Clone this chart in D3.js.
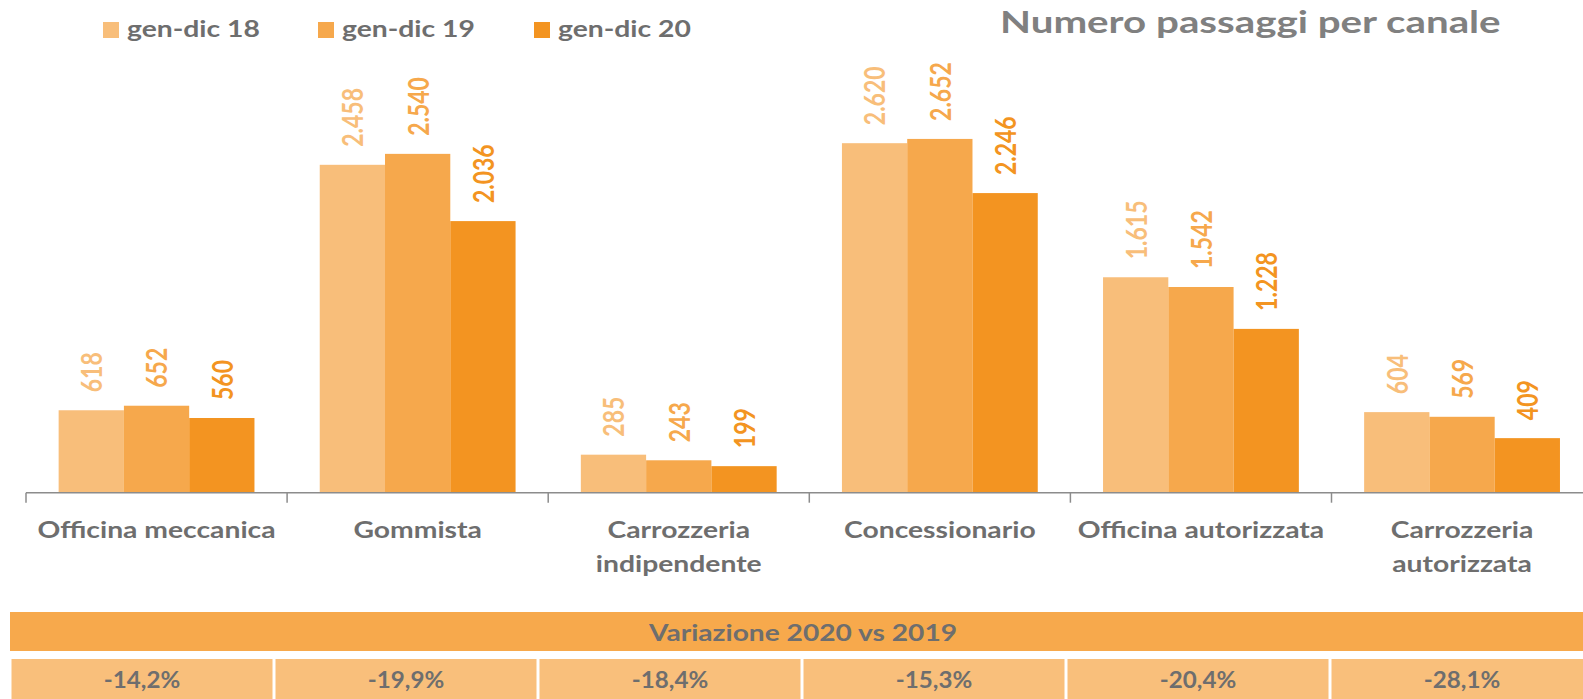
<!DOCTYPE html>
<html>
<head>
<meta charset="utf-8">
<script src="https://cdn.jsdelivr.net/npm/d3@7"></script>
<style>
  html, body { margin: 0; padding: 0; background: #ffffff; }
  svg { display: block; }
  text { font-family: Lato, "Open Sans", sans-serif; }
</style>
</head>
<body>
<svg id="chart" width="1583" height="699"></svg>
<script>
// ---- data ----
const categories = [
  ["Officina meccanica"],
  ["Gommista"],
  ["Carrozzeria", "indipendente"],
  ["Concessionario"],
  ["Officina autorizzata"],
  ["Carrozzeria", "autorizzata"]
];
const seriesNames = ["gen-dic 18", "gen-dic 19", "gen-dic 20"];
const values18 = [618, 2458, 285, 2620, 1615, 604];
const values19 = [652, 2540, 243, 2652, 1542, 569];
const values20 = [560, 2036, 199, 2246, 1228, 409];
const variazioni = ["-14,2%", "-19,9%", "-18,4%", "-15,3%", "-20,4%", "-28,1%"];
const titleText = "Numero passaggi per canale";
const tableHeader = "Variazione 2020 vs 2019";

// ---- styles ----
const colors = ["#F8BE7A", "#F6A84C", "#F39421"];
const labelColors = ["#F8BE7A", "#F6A84C", "#F39421"];
const labelWeights = ["bold", "bold", "bold"];
const grayText = "#6e6e6e";

const svg = d3.select("#chart");
const catKeys = categories.map(c => c.join(" "));
const seriesValues = [values18, values19, values20];

const x0 = d3.scaleBand().domain(catKeys).range([26, 26 + 6 * 261.1]).padding(0);
const x1 = d3.scaleBand().domain(seriesNames).range([0, x0.bandwidth()]).paddingInner(0).paddingOuter(0.5);
const y = d3.scaleLinear().domain([0, 3000]).range([492.7, 492.7 - 0.1334 * 3000]);

const it = d3.formatLocale({decimal: ",", thousands: ".", grouping: [3], currency: ["", "€"]});
const fmt = it.format(",d");

// bars
const groups = svg.append("g").selectAll("g")
  .data(catKeys)
  .join("g")
  .attr("transform", d => `translate(${x0(d)},0)`);

groups.selectAll("rect")
  .data((d, i) => seriesNames.map((s, j) => ({s, j, v: seriesValues[j][i]})))
  .join("rect")
  .attr("x", d => x1(d.s))
  .attr("width", x1.bandwidth())
  .attr("y", d => y(d.v))
  .attr("height", d => y(0) - y(d.v))
  .attr("fill", d => colors[d.j]);

groups.selectAll("text.val")
  .data((d, i) => seriesNames.map((s, j) => ({s, j, v: seriesValues[j][i]})))
  .join("text")
  .attr("class", "val")
  .attr("transform", d => `translate(${x1(d.s) + x1.bandwidth() / 2},${y(d.v) - 18}) scale(1.2,1) rotate(-90)`)
  .attr("text-anchor", "start")
  .attr("dominant-baseline", "central")
  .attr("font-size", 23)
  .attr("font-weight", d => labelWeights[d.j])
  .attr("fill", d => labelColors[d.j])
  .text(d => fmt(d.v));

// axis
const axisG = svg.append("g").attr("transform", `translate(0,${y(0)})`);
axisG.append("line")
  .attr("x1", x0.range()[0]).attr("x2", x0.range()[1])
  .attr("stroke", "#8c8c8c").attr("stroke-width", 1.5);
axisG.selectAll("line.tick")
  .data(catKeys)
  .join("line")
  .attr("class", "tick")
  .attr("x1", d => x0(d)).attr("x2", d => x0(d))
  .attr("y1", 0).attr("y2", 10)
  .attr("stroke", "#8c8c8c").attr("stroke-width", 1.5);

const catText = svg.append("g").selectAll("text")
  .data(categories)
  .join("text")
  .attr("transform", (d, i) => `translate(${x0(catKeys[i]) + x0.bandwidth() / 2},537.5) scale(1.23,1)`)
  .attr("text-anchor", "middle")
  .attr("font-size", 23)
  .attr("font-weight", "bold")
  .attr("fill", grayText);
catText.selectAll("tspan")
  .data(d => d)
  .join("tspan")
  .attr("x", 0)
  .attr("dy", (d, i) => i === 0 ? 0 : 35)
  .text(d => d);

// legend
const legend = svg.append("g");
const legendX = [103, 318, 534];
seriesNames.forEach((s, j) => {
  legend.append("rect")
    .attr("x", legendX[j]).attr("y", 22)
    .attr("width", 16).attr("height", 16)
    .attr("fill", colors[j]);
  legend.append("text")
    .attr("transform", `translate(${legendX[j] + 24},37) scale(1.23,1)`)
    .attr("font-size", 23).attr("font-weight", "bold")
    .attr("fill", grayText)
    .text(s);
});

// title
svg.append("text")
  .attr("transform", "translate(1000,33) scale(1.3,1)")
  .attr("font-size", 31).attr("font-weight", "bold")
  .attr("fill", "#808080")
  .text(titleText);

// table
const xt = d3.scaleBand().domain(catKeys).range([10, 10 + 6 * 264]).padding(0);
svg.append("rect")
  .attr("x", 10).attr("y", 612)
  .attr("width", 1583 - 10).attr("height", 39)
  .attr("fill", "#F7A94C");
svg.append("text")
  .attr("transform", "translate(803,632) scale(1.28,1)")
  .attr("text-anchor", "middle").attr("dominant-baseline", "central")
  .attr("font-size", 22).attr("font-weight", "bold")
  .attr("fill", grayText)
  .text(tableHeader);
svg.append("g").selectAll("rect")
  .data(catKeys)
  .join("rect")
  .attr("x", d => xt(d) + 1.5)
  .attr("width", xt.bandwidth() - 3)
  .attr("y", 659).attr("height", 45)
  .attr("fill", "#F9BF7B");
svg.append("g").selectAll("text")
  .data(variazioni)
  .join("text")
  .attr("transform", (d, i) => `translate(${xt(catKeys[i]) + xt.bandwidth() / 2},679) scale(1.05,1)`)
  .attr("text-anchor", "middle").attr("dominant-baseline", "central")
  .attr("font-size", 23).attr("font-weight", "bold")
  .attr("fill", grayText)
  .text(d => d);
</script>
</body>
</html>
